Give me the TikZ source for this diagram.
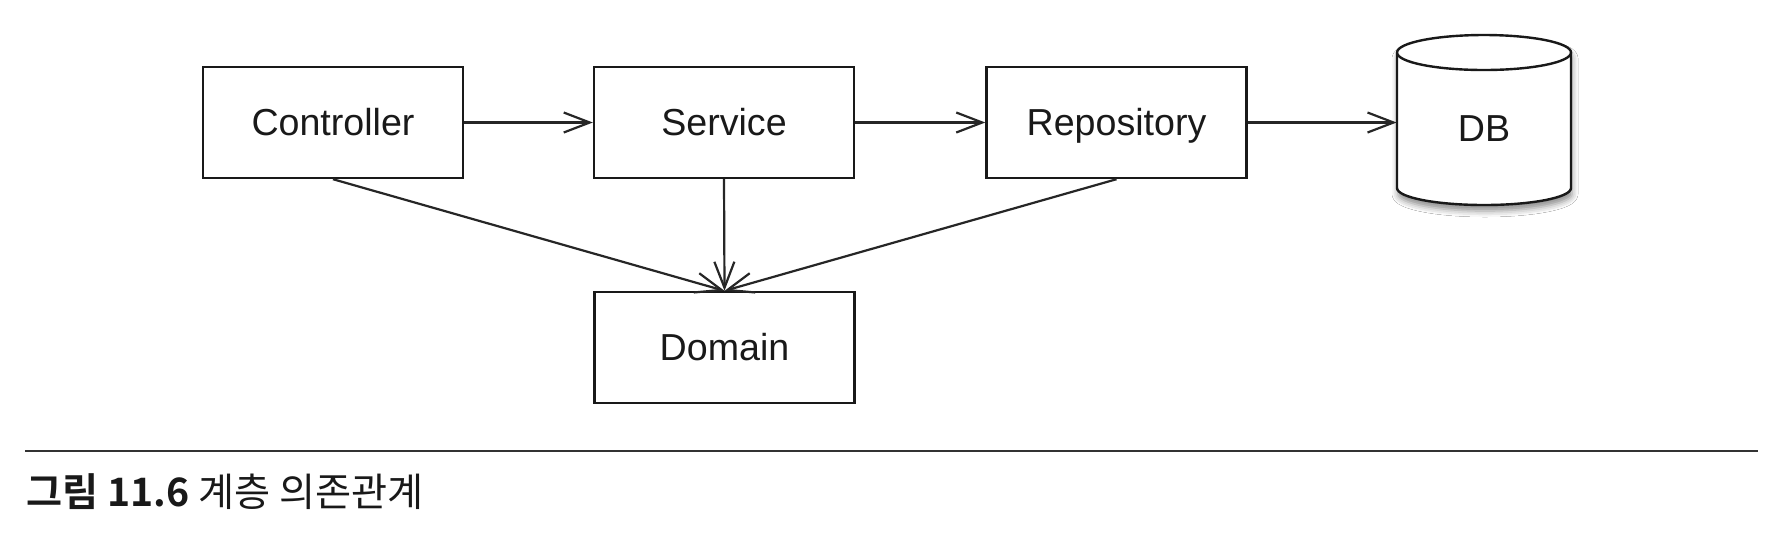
\documentclass[tikz,border=0pt]{standalone}
\usepackage{fontspec}
\setmainfont{Liberation Sans}
\newfontfamily\korfont{Noto Sans CJK KR}
\newfontfamily\korbold{Noto Sans CJK KR Bold}
\usetikzlibrary{arrows.meta,shadows.blur}
\begin{document}
\begin{tikzpicture}[x=0.5pt,y=-0.5pt,
  boxnode/.style={draw=black!90, line width=1.2pt, minimum width=130pt, minimum height=55.5pt,
    inner sep=0pt, text height=13.4pt, text depth=0pt,
    font=\fontsize{18.8}{22}\selectfont, text=black!90},
  conn/.style={draw=black!85, line width=1.1pt, -{Straight Barb[length=13pt,width=10pt,line width=1.1pt]}},
  ]
\useasboundingbox[fill=white] (0,0) rectangle (1788,532);
\node[boxnode] (ctrl) at (333,122.5) {Controller};
\node[boxnode] (svc) at (724,122.5) {Service};
\node[boxnode] (repo) at (1116.5,122.5) {Repository};
\node[boxnode] (dom) at (724.5,347.5) {Domain};
% DB cylinder
\node[minimum width=87pt, minimum height=85pt, inner sep=0pt] (db) at (1484,122.5) {};
\fill[white, blur shadow={shadow xshift=0.5pt, shadow yshift=-3pt, shadow opacity=45, shadow blur radius=3pt}]
  (1397,52.5) -- (1397,188) arc[start angle=180, end angle=0, x radius=87, y radius=17]
  -- (1571,52.5) arc[start angle=0, end angle=-180, x radius=87, y radius=17.5] -- cycle;
\draw[black!90, line width=1.2pt]
  (1397,52.5) -- (1397,188) arc[start angle=180, end angle=0, x radius=87, y radius=17]
  -- (1571,52.5);
\draw[black!90, line width=1.2pt] (1484,52.5) ellipse[x radius=87, y radius=17.5];
\node[boxnode, draw=none, minimum width=0pt, minimum height=0pt] (dblabel) at (1484,128) {DB};
% connectors
\draw[conn] (ctrl.east) -- (svc.west);
\draw[conn] (svc.east) -- (repo.west);
\draw[conn] (repo.east) -- (db.west);
\draw[conn] (ctrl.south) -- (dom.north);
\draw[conn] (svc.south) -- (dom.north);
\draw[conn] (repo.south) -- (dom.north);
% caption
\coordinate (ruleL) at (25,451);
\coordinate (ruleR) at (1758,451);
\draw[black!80, line width=1pt] (ruleL) -- (ruleR);
\node[anchor=base west, inner sep=0pt, text=black!90, font=\fontsize{19.6}{23}\selectfont] (cap) at (26,506)
  {\korbold 그림 11.6\korfont{} 계층 의존관계};
\end{tikzpicture}
\end{document}
